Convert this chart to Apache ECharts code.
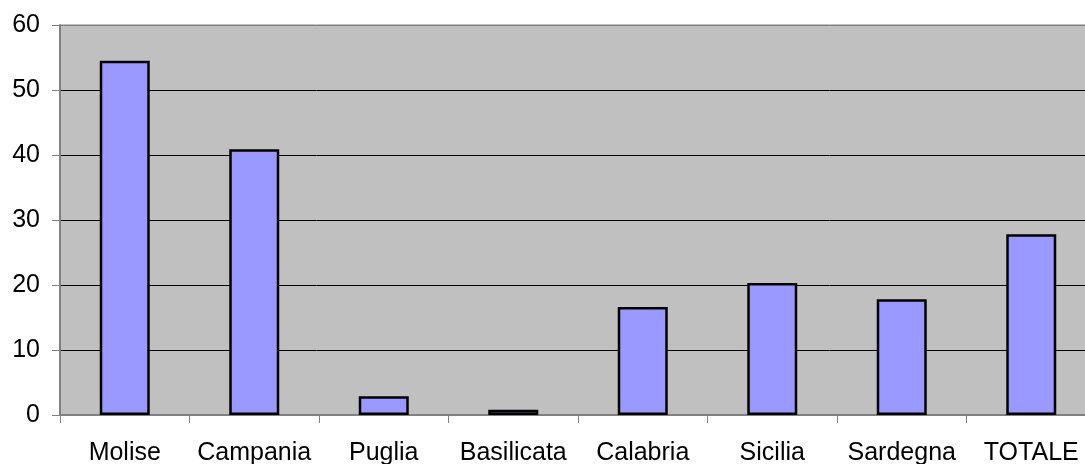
<!DOCTYPE html>
<html><head><meta charset="utf-8">
<script src="https://cdn.jsdelivr.net/npm/echarts@6/dist/echarts.min.js"></script>
<style>html,body{margin:0;padding:0;background:#fff;overflow:hidden}#c{width:1085px;height:464px}</style>
</head><body><div id="c"></div>
<script>
var categories = ['Molise','Campania','Puglia','Basilicata','Calabria','Sicilia','Sardegna','TOTALE'];
var values = [54.5, 40.9, 2.9, 0.8, 16.6, 20.3, 17.8, 27.8];
var yTicks = {min: 0, max: 60, interval: 10};
var chart = echarts.init(document.getElementById('c'));
chart.setOption({
  animation: false,
  grid: {left: 60, top: 25, width: 1036, height: 390, outerBoundsMode: 'none', containLabel: false, show: true, backgroundColor: '#c0c0c0', borderColor: '#808080', borderWidth: 1},
  xAxis: {
    type: 'category', data: categories,
    axisLine: {lineStyle: {color: '#808080', width: 2}},
    axisTick: {show: true, length: 8, lineStyle: {color: '#808080', width: 1}},
    axisLabel: {color: '#000', fontFamily: 'Liberation Sans, Arial', fontSize: 25, margin: 26, interval: 0}
  },
  yAxis: {
    type: 'value', min: yTicks.min, max: yTicks.max, interval: yTicks.interval,
    axisLine: {show: true, lineStyle: {color: '#808080', width: 2}},
    axisTick: {show: true, length: 8, lineStyle: {color: '#808080', width: 1}},
    axisLabel: {color: '#000', fontFamily: 'Liberation Sans, Arial', fontSize: 25, margin: 20},
    splitLine: {show: true, lineStyle: {color: ['#808080','#000','#000','#000','#000','#000','#808080'], width: 1}}
  },
  series: [{
    type: 'bar', data: values, barWidth: 50,
    itemStyle: {color: '#9999ff', borderColor: '#000', borderWidth: 2.5}
  }]
});
</script></body></html>
